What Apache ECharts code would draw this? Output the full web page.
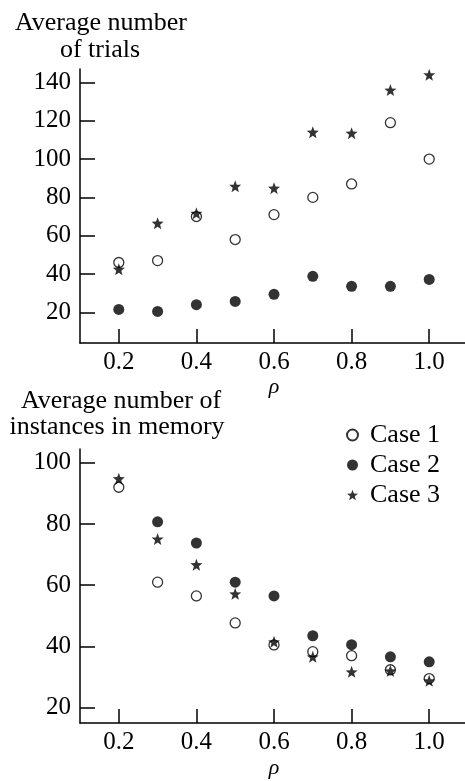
<!DOCTYPE html>
<html><head><meta charset="utf-8">
<script src="https://cdn.jsdelivr.net/npm/echarts@6/dist/echarts.min.js"></script>
<style>html,body{margin:0;padding:0;background:#fff}#c{width:465px;height:781px}</style>
</head><body><div id="c"></div>
<script>
const rho = [0.2, 0.3, 0.4, 0.5, 0.6, 0.7, 0.8, 0.9, 1.0];
const xTicks = [0.2, 0.4, 0.6, 0.8, 1.0];
const trialsTicks = [20, 40, 60, 80, 100, 120, 140];
const memTicks = [20, 40, 60, 80, 100];
const seriesNames = ['Case 1', 'Case 2', 'Case 3'];
const trialsCase1 = [46, 47, 70, 58, 71, 80, 87, 119, 100];
const trialsCase2 = [21.5, 20.5, 24, 25.7, 29.4, 38.8, 33.6, 33.6, 37.2];
const trialsCase3 = [42.5, 66.5, 71.7, 85.8, 84.8, 114, 113.5, 136, 144];
const memCase1 = [92, 61, 56.5, 47.7, 40.5, 38.3, 37, 32.4, 29.5];
const memCase2 = [106.5, 80.7, 73.8, 61, 56.5, 43.5, 40.6, 36.6, 35];
const memCase3 = [94.8, 75.1, 66.7, 57.2, 41.5, 36.6, 31.7, 32, 28.8];

const FONT = "Liberation Serif";
function starPath() {
  let d = '';
  for (let i = 0; i < 10; i++) {
    const r = i % 2 === 0 ? 1 : 0.42;
    const a = -Math.PI / 2 + i * Math.PI / 5;
    d += (i === 0 ? 'M' : 'L') + (r * Math.cos(a)).toFixed(3) + ' ' + (r * Math.sin(a)).toFixed(3) + ' ';
  }
  return 'path://' + d + 'Z';
}
const STAR = starPath();

function xAxis(gridIndex, nameGap) {
  return {
    type: 'value', gridIndex: gridIndex, min: 0.1, max: 1.1,
    axisLine: { show: true, onZero: false, lineStyle: { color: '#000', width: 1.5 } },
    axisTick: { show: true, inside: true, length: 14, customValues: xTicks, lineStyle: { color: '#000', width: 1.5 } },
    axisLabel: { customValues: xTicks, formatter: v => v.toFixed(1), fontFamily: FONT, fontWeight: 'normal', fontSize: 25, color: '#000', margin: 7 },
    splitLine: { show: false },
    name: 'ρ', nameLocation: 'middle', nameGap: nameGap,
    nameTextStyle: { fontFamily: FONT, fontStyle: 'italic', fontSize: 22, color: '#000' }
  };
}
function yAxis(gridIndex, min, max, ticks) {
  return {
    type: 'value', gridIndex: gridIndex, min: min, max: max,
    axisLine: { show: true, onZero: false, lineStyle: { color: '#000', width: 1.5 } },
    axisTick: { show: true, inside: true, length: 15, customValues: ticks, lineStyle: { color: '#000', width: 1.5 } },
    axisLabel: { customValues: ticks, fontFamily: FONT, fontWeight: 'normal', fontSize: 25, color: '#000', margin: 9 },
    splitLine: { show: false }
  };
}
function pts(arr) { return rho.map((x, i) => [x, arr[i]]); }
function series(name, idx, arr) {
  const styles = {
    'Case 1': { symbol: 'circle', symbolSize: 10, itemStyle: { color: '#fff', borderColor: '#000', borderWidth: 1.3 } },
    'Case 2': { symbol: 'circle', symbolSize: 11, itemStyle: { color: '#000' } },
    'Case 3': { symbol: STAR, symbolSize: 12, itemStyle: { color: '#000' } }
  };
  return Object.assign({ type: 'scatter', name: name, xAxisIndex: idx, yAxisIndex: idx, data: pts(arr), silent: true, emphasis: { disabled: true } }, styles[name]);
}
function txt(x, y, s) {
  return { type: 'text', x: x, y: y, silent: true,
    style: { text: s, fontFamily: FONT, fontSize: 26, fill: '#000', align: 'center', verticalAlign: 'middle' } };
}

const chart = echarts.init(document.getElementById('c'), null, { renderer: 'canvas' });
chart.setOption({
  animation: false,
  backgroundColor: '#fff',
  textStyle: { fontFamily: FONT, color: '#000' },
  grid: [
    { left: 80, top: 69, width: 388, height: 274, outerBoundsMode: 'none', containLabel: false },
    { left: 80, top: 449, width: 388, height: 274, outerBoundsMode: 'none', containLabel: false }
  ],
  xAxis: [xAxis(0, 32), xAxis(1, 34)],
  yAxis: [yAxis(0, 4, 147, trialsTicks), yAxis(1, 15, 104.5, memTicks)],
  legend: {
    data: seriesNames, orient: 'vertical', left: 341, top: 417, itemWidth: 11, itemHeight: 11, itemGap: 4,
    selectedMode: false,
    textStyle: { fontFamily: FONT, fontWeight: 'normal', fontSize: 26, color: '#000', lineHeight: 25, padding: [0, 0, 0, 7] }
  },
  graphic: [
    txt(101, 23, 'Average number'),
    txt(100, 50, 'of trials'),
    txt(121, 401, 'Average number of'),
    txt(117, 427, 'instances in memory')
  ],
  series: [
    series('Case 1', 0, trialsCase1),
    series('Case 2', 0, trialsCase2),
    series('Case 3', 0, trialsCase3),
    series('Case 1', 1, memCase1),
    series('Case 2', 1, memCase2),
    series('Case 3', 1, memCase3)
  ]
});
</script></body></html>
